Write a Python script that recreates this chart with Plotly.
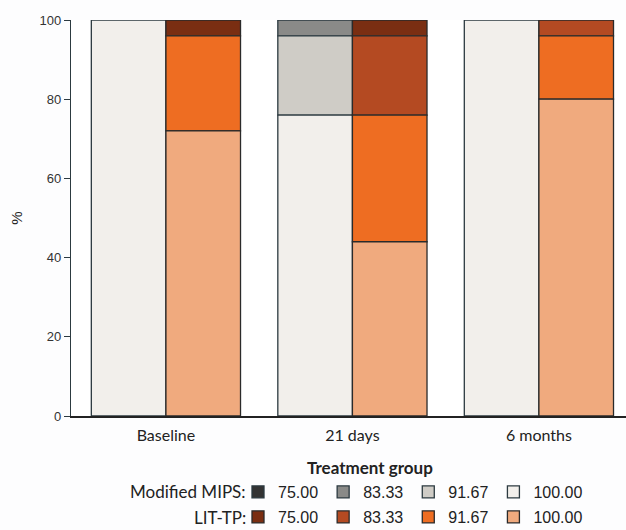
import plotly.graph_objects as go

timepoints = ["Baseline", "21 days", "6 months"]
levels = ["75.00", "83.33", "91.67", "100.00"]

# Modified MIPS (% of patients by score level)
mips_75 = [0, 0, 0]
mips_8333 = [0, 4, 0]
mips_9167 = [0, 20, 0]
mips_100 = [100, 76, 100]

# LIT-TP (% of patients by score level)
lit_75 = [4, 4, 0]
lit_8333 = [0, 20, 4]
lit_9167 = [24, 32, 16]
lit_100 = [72, 44, 80]

mips_colors = ["#333333", "#8a8a88", "#cfccc6", "#f2efeb"]
lit_colors = ["#7a2e12", "#b44a22", "#ee6d22", "#f0aa7e"]

mips_series = [mips_75, mips_8333, mips_9167, mips_100]
lit_series = [lit_75, lit_8333, lit_9167, lit_100]

fig = go.Figure()

def add_group(series, colors, group, legend, outline):
    # stack order: 100.00 at bottom, 75.00 on top
    n = len(timepoints)
    base = [0] * n
    traces = []
    for i in reversed(range(len(levels))):
        vals = series[i]
        traces.append((i, vals, list(base)))
        base = [b + v for b, v in zip(base, vals)]
    for i, vals, b in sorted(traces, key=lambda t: t[0]):
        fig.add_trace(go.Bar(
            x=timepoints, y=vals, base=b, name=levels[i],
            offsetgroup=group, legend=legend,
            marker=dict(color=colors[i], line=dict(color=outline, width=1.3)),
            hoverinfo="y+name",
        ))

add_group(mips_series, mips_colors, "mips", "legend", "#2c3a40")
add_group(lit_series, lit_colors, "lit", "legend2", "#2a2a2a")

legend_common = dict(
    orientation="h", xanchor="left", yanchor="middle",
    font=dict(family="Liberation Sans, Arial", size=16, color="#222"),
    itemclick=False, itemdoubleclick=False,
    bgcolor="rgba(0,0,0,0)", tracegroupgap=0,
)

def px_x(px):
    return (px - 71) / 555.0

def px_y(px):
    return (416 - px) / 396.0

title_font = dict(family="Lato, Carlito, sans-serif", size=17, color="#222")

row1, row2 = 492, 517

fig.update_layout(
    width=626, height=530,
    margin=dict(l=71, r=0, t=20, b=114, autoexpand=False),
    barmode="group", bargap=0.2, bargroupgap=0,
    paper_bgcolor="#fdfdfe", plot_bgcolor="#ffffff",
    showlegend=True,
    legend=dict(**legend_common, x=px_x(238), y=px_y(row1)),
    legend2=dict(**legend_common, x=px_x(238), y=px_y(row2)),
    annotations=[
        dict(text="Modified MIPS:", xref="paper", yref="paper", x=px_x(248), y=px_y(row1),
             xanchor="right", yanchor="middle", showarrow=False, font=title_font),
        dict(text="LIT-TP:", xref="paper", yref="paper", x=px_x(248), y=px_y(row2),
             xanchor="right", yanchor="middle", showarrow=False, font=title_font),
        dict(text="<b>Treatment group</b>", xref="paper", yref="paper", x=px_x(370), y=px_y(467),
             xanchor="center", yanchor="middle", showarrow=False,
             font=dict(family="Lato, Carlito, sans-serif", size=17, color="#222")),
    ],
    xaxis=dict(
        type="category", range=[-0.509, 2.467],
        showline=True, linecolor="#222", linewidth=1.5,
        ticks="", showgrid=False, zeroline=False, ticklabelstandoff=4,
        tickfont=dict(family="Lato, Carlito, sans-serif", size=16, color="#222"),
    ),
    yaxis=dict(
        range=[0, 100], tickvals=[0, 20, 40, 60, 80, 100],
        showline=True, linecolor="#2c3a40", linewidth=1.3,
        ticks="outside", ticklen=6, tickcolor="#2c3a40",
        showgrid=False, zeroline=False,
        tickfont=dict(family="Liberation Sans, Arial", size=13, color="#333"),
        title=dict(text="%", standoff=13,
                   font=dict(family="Liberation Sans, Arial", size=15, color="#222")),
    ),
)

fig.write_html("out.html")
